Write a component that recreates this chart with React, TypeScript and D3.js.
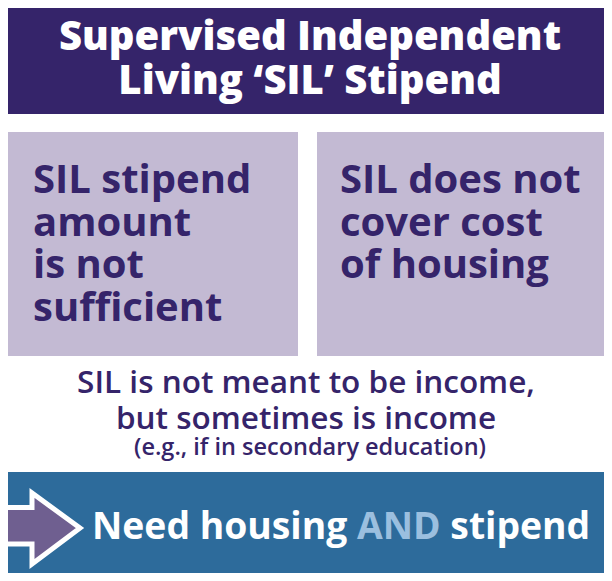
import { useEffect, useRef } from 'react';
import * as d3 from 'd3';

const titleLines = ['Supervised Independent', 'Living \u2018SIL\u2019 Stipend'];
const boxNames = ['amount', 'housing'];
const boxLines = [
  ['SIL stipend', 'amount', 'is not', 'sufficient'],
  ['SIL does not', 'cover cost', 'of housing'],
];
const noteLines = ['SIL is not meant to be income,', 'but sometimes is income'];
const noteSmall = '(e.g., if in secondary education)';
const bottomParts = [
  { text: 'Need housing ', accent: false },
  { text: 'AND', accent: true },
  { text: ' stipend', accent: false },
];

const DARK = '#35246a';
const LILAC = '#c3bad3';
const BLUE = '#2d6b9b';
const FONT = '"Open Sans", sans-serif';

export default function App() {
  const svgRef = useRef<SVGSVGElement>(null);

  useEffect(() => {
    const svg = d3.select(svgRef.current);
    svg.selectAll('*').remove();

    const width = 612;
    const height = 581;
    svg.attr('width', width).attr('height', height);

    svg.append('rect').attr('width', width).attr('height', height).attr('fill', '#fff');

    // header
    svg.append('rect')
      .attr('x', 3).attr('y', 3)
      .attr('width', width - 3).attr('height', 111)
      .attr('fill', DARK);

    svg.append('g')
      .selectAll('text')
      .data(titleLines)
      .join('text')
      .attr('x', 310)
      .attr('y', (d, i) => 50 + i * 44)
      .attr('text-anchor', 'middle')
      .attr('fill', '#fff')
      .attr('font-family', FONT)
      .attr('font-weight', 800)
      .attr('font-size', 40)
      .text(d => d);

    // two boxes
    const xBox = d3.scaleBand()
      .domain(boxNames)
      .range([3, width])
      .paddingInner(0.0605);

    const textPad = [30, 23];

    const boxes = svg.append('g')
      .selectAll('g')
      .data(boxNames)
      .join('g')
      .attr('transform', d => `translate(${xBox(d)}, 132)`);

    boxes.append('rect')
      .attr('width', xBox.bandwidth())
      .attr('height', 224)
      .attr('fill', LILAC);

    boxes.each(function (name, bi) {
      d3.select(this).append('g')
        .selectAll('text')
        .data(boxLines[bi])
        .join('text')
        .attr('x', textPad[bi])
        .attr('y', (d, i) => 61 + i * 42.5)
        .attr('fill', DARK)
        .attr('font-family', FONT)
        .attr('font-weight', 700)
        .attr('font-size', 40)
        .text(d => d);
    });

    // note
    svg.append('g')
      .selectAll('text')
      .data(noteLines)
      .join('text')
      .attr('x', 306)
      .attr('y', (d, i) => 393 + i * 36)
      .attr('text-anchor', 'middle')
      .attr('fill', DARK)
      .attr('font-family', FONT)
      .attr('font-weight', 600)
      .attr('font-size', 31.5)
      .text(d => d);

    svg.append('text')
      .attr('x', 310)
      .attr('y', 455)
      .attr('text-anchor', 'middle')
      .attr('fill', DARK)
      .attr('font-family', FONT)
      .attr('font-weight', 600)
      .attr('font-size', 23.5)
      .text(noteSmall);

    // bottom panel
    svg.append('rect')
      .attr('x', 3).attr('y', 472)
      .attr('width', 605).attr('height', 107)
      .attr('fill', BLUE);

    const arrow = d3.line()([
      [-6, 507.5], [32, 507.5], [32, 493], [80, 528],
      [32, 564], [32, 544], [-6, 544],
    ]);
    svg.append('path')
      .attr('d', arrow + 'Z')
      .attr('fill', '#6f5f90')
      .attr('stroke', '#fff')
      .attr('stroke-width', 5)
      .attr('stroke-linejoin', 'miter');

    svg.append('text')
      .attr('x', 92)
      .attr('y', 539)
      .attr('font-family', FONT)
      .attr('font-weight', 700)
      .attr('font-size', 37.3)
      .selectAll('tspan')
      .data(bottomParts)
      .join('tspan')
      .attr('fill', d => (d.accent ? '#9bbfdf' : '#fff'))
      .style('white-space', 'pre')
      .text(d => d.text);
  }, []);

  return (
    <div style={{ margin: -8 }}>
      <svg ref={svgRef} style={{ display: 'block' }}></svg>
    </div>
  );
}
